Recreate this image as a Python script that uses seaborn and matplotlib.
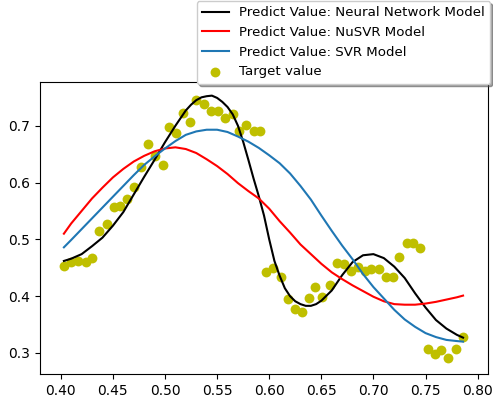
import seaborn as sns
import matplotlib.pyplot as plt
import pandas as pd

# target points
x_target = [0.403, 0.410, 0.417, 0.424, 0.430, 0.437, 0.444, 0.451, 0.457, 0.464,
            0.470, 0.477, 0.484, 0.490, 0.498, 0.504, 0.511, 0.517, 0.524, 0.530,
            0.537, 0.544, 0.551, 0.558, 0.565, 0.571, 0.578, 0.585, 0.591, 0.597,
            0.604, 0.611, 0.618, 0.625, 0.631, 0.638, 0.644, 0.651, 0.658, 0.665,
            0.672, 0.678, 0.685, 0.692, 0.698, 0.705, 0.712, 0.719, 0.725, 0.732,
            0.738, 0.745, 0.752, 0.759, 0.765, 0.772, 0.779, 0.786]
y_target = [0.453, 0.461, 0.462, 0.461, 0.468, 0.514, 0.527, 0.557, 0.559, 0.571,
            0.592, 0.627, 0.668, 0.647, 0.631, 0.697, 0.688, 0.723, 0.706, 0.746,
            0.739, 0.726, 0.726, 0.714, 0.721, 0.691, 0.702, 0.691, 0.691, 0.443,
            0.450, 0.433, 0.395, 0.377, 0.373, 0.396, 0.416, 0.399, 0.420, 0.459,
            0.457, 0.445, 0.452, 0.445, 0.448, 0.448, 0.433, 0.433, 0.469, 0.494,
            0.493, 0.485, 0.307, 0.298, 0.305, 0.292, 0.307, 0.329]

# neural network prediction (denser where the curve bends sharply)
x_nn = [0.403, 0.41, 0.42, 0.43, 0.44, 0.45, 0.46, 0.47, 0.48, 0.49,
        0.50, 0.51, 0.52, 0.525, 0.53, 0.535, 0.54, 0.545, 0.55, 0.555,
        0.56, 0.565, 0.57, 0.575, 0.58, 0.585, 0.59, 0.595, 0.60, 0.605,
        0.61, 0.615, 0.62, 0.625, 0.63, 0.635, 0.64, 0.645, 0.65, 0.66,
        0.67, 0.68, 0.69, 0.70, 0.71, 0.72, 0.73, 0.74, 0.75, 0.76,
        0.77, 0.78, 0.786]
nn_pred = [0.462, 0.466, 0.474, 0.488, 0.503, 0.524, 0.548, 0.579, 0.610, 0.640,
           0.671, 0.700, 0.727, 0.737, 0.745, 0.750, 0.752, 0.753, 0.749, 0.742,
           0.733, 0.720, 0.700, 0.672, 0.640, 0.607, 0.576, 0.542, 0.500, 0.462,
           0.436, 0.414, 0.400, 0.391, 0.386, 0.383, 0.383, 0.386, 0.392, 0.410,
           0.437, 0.460, 0.472, 0.474, 0.467, 0.452, 0.432, 0.405, 0.380, 0.358,
           0.343, 0.332, 0.327]

# svr model predictions
x_svm = [0.403, 0.41, 0.42, 0.43, 0.44, 0.45, 0.46, 0.47, 0.48, 0.49,
         0.50, 0.51, 0.52, 0.53, 0.54, 0.55, 0.56, 0.57, 0.58, 0.59,
         0.60, 0.61, 0.62, 0.63, 0.64, 0.65, 0.66, 0.67, 0.68, 0.69,
         0.70, 0.71, 0.72, 0.73, 0.74, 0.75, 0.76, 0.77, 0.78, 0.786]
nusvr_pred = [0.510, 0.528, 0.550, 0.572, 0.591, 0.609, 0.624, 0.637, 0.647, 0.655,
              0.660, 0.662, 0.659, 0.652, 0.641, 0.629, 0.615, 0.599, 0.585, 0.572,
              0.554, 0.532, 0.512, 0.491, 0.474, 0.457, 0.442, 0.430, 0.419, 0.409,
              0.399, 0.391, 0.386, 0.385, 0.385, 0.387, 0.390, 0.394, 0.398, 0.401]
svr_pred = [0.486, 0.499, 0.518, 0.537, 0.556, 0.575, 0.594, 0.613, 0.631, 0.646,
            0.660, 0.673, 0.684, 0.690, 0.693, 0.693, 0.689, 0.681, 0.672, 0.661,
            0.648, 0.634, 0.616, 0.594, 0.570, 0.542, 0.515, 0.489, 0.465, 0.439,
            0.416, 0.396, 0.376, 0.359, 0.346, 0.335, 0.328, 0.323, 0.321, 0.320]

nn = pd.DataFrame({'x': x_nn, 'y': nn_pred})
svm = pd.DataFrame({'x': x_svm, 'nusvr': nusvr_pred, 'svr': svr_pred})
target = pd.DataFrame({'x': x_target, 'y': y_target})

fig = plt.figure(figsize=(4.93, 4.0), dpi=100)
ax = fig.add_axes([0.081, 0.065, 0.909, 0.73])

sns.lineplot(data=nn, x='x', y='y', color='black', lw=1.5, ax=ax,
             label='Predict Value: Neural Network Model')
sns.lineplot(data=svm, x='x', y='nusvr', color='red', lw=1.5, ax=ax,
             label='Predict Value: NuSVR Model')
sns.lineplot(data=svm, x='x', y='svr', color='#1f77b4', lw=1.5, ax=ax,
             label='Predict Value: SVR Model')
sns.scatterplot(data=target, x='x', y='y', color='y', s=50, linewidth=0, ax=ax,
                label='Target value')

ax.set_xlim(0.38, 0.81)
ax.set_ylim(0.263, 0.777)
ax.set_xticks([0.40, 0.45, 0.50, 0.55, 0.60, 0.65, 0.70, 0.75, 0.80])
ax.set_yticks([0.3, 0.4, 0.5, 0.6, 0.7])
ax.set_xlabel('')
ax.set_ylabel('')
ax.legend(loc='upper right', bbox_to_anchor=(1.005, 1.277), borderaxespad=0,
          shadow=True, fontsize=9.6, labelspacing=0.5)

plt.savefig('out.png', dpi=100)
